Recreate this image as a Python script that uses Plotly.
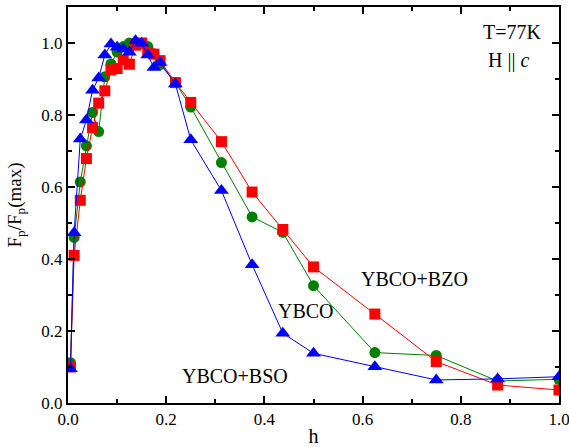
import plotly.graph_objects as go

h = [0.005, 0.0125, 0.025, 0.0375, 0.05, 0.0625, 0.075, 0.0875, 0.1, 0.1125,
     0.125, 0.1375, 0.15, 0.1625, 0.175, 0.1875, 0.21875, 0.25, 0.3125, 0.375,
     0.4375, 0.5, 0.625, 0.75, 0.875, 1.0]

ybco = [0.112, 0.46, 0.614, 0.714, 0.807, 0.754, 0.906, 0.942, 0.975, 0.99,
        1.0, 1.0, 0.998, 0.99, 0.97, 0.94, 0.89, 0.822, 0.668, 0.517,
        0.474, 0.326, 0.14, 0.132, 0.061, 0.066]

ybco_bzo = [0.10, 0.41, 0.563, 0.679, 0.765, 0.833, 0.867, 0.925, 0.929, 0.953,
            0.941, 0.994, 1.0, 0.974, 0.969, 0.951, 0.89, 0.835, 0.726, 0.586,
            0.482, 0.378, 0.247, 0.115, 0.05, 0.036]

ybco_bso = [0.095, 0.473, 0.733, 0.786, 0.869, 0.903, 0.967, 0.997, 0.988, 0.983,
            0.974, 1.006, 0.999, 0.967, 0.932, 0.946, 0.886, 0.731, 0.59, 0.384,
            0.194, 0.138, 0.101, 0.064, 0.067, 0.073]

x_ticks = [0.0, 0.2, 0.4, 0.6, 0.8, 1.0]
y_ticks = [0.0, 0.2, 0.4, 0.6, 0.8, 1.0]

FONT = "Liberation Serif, Times New Roman, serif"

fig = go.Figure()
fig.add_trace(go.Scatter(x=h, y=ybco, mode="lines+markers", name="YBCO",
                         line=dict(color="#008000", width=1),
                         marker=dict(symbol="circle", size=11, color="#008000")))
fig.add_trace(go.Scatter(x=h, y=ybco_bzo, mode="lines+markers", name="YBCO+BZO",
                         line=dict(color="#FF0000", width=1),
                         marker=dict(symbol="square", size=11, color="#FF0000")))
fig.add_trace(go.Scatter(x=h, y=ybco_bso, mode="lines+markers", name="YBCO+BSO",
                         line=dict(color="#0000FF", width=1),
                         marker=dict(symbol="triangle-up", size=13, color="#0000FF")))

axis_common = dict(showline=True, linecolor="black", linewidth=2, mirror="ticks",
                   ticks="inside", ticklen=7, tickwidth=1.5, tickcolor="black",
                   showgrid=False, zeroline=False, automargin=False,
                   ticklabeloverflow="allow",
                   tickfont=dict(family=FONT, size=17, color="black"))

fig.update_xaxes(range=[0, 1.0], tickvals=x_ticks,
                 ticktext=[f"{v:.1f}" for v in x_ticks],
                 minor=dict(ticks="inside", ticklen=4, tickwidth=1.5, dtick=0.1, tick0=0,
                            tickcolor="black", showgrid=False),
                 title=dict(text="h", font=dict(family=FONT, size=20, color="black")),
                 **axis_common)
fig.update_yaxes(range=[0, 1.1], tickvals=y_ticks,
                 ticktext=[f"{v:.1f}" for v in y_ticks],
                 minor=dict(ticks="inside", ticklen=4, tickwidth=1.5, dtick=0.1, tick0=0,
                            tickcolor="black", showgrid=False),
                 title=dict(text="F<sub>p</sub>/F<sub>p</sub>(max)",
                            font=dict(family=FONT, size=19, color="black")),
                 **axis_common)

ann_font = dict(family=FONT, size=20, color="black")
fig.add_annotation(x=0.705, y=0.345, xref="x", yref="y", text="YBCO+BZO",
                   showarrow=False, font=ann_font)
fig.add_annotation(x=0.485, y=0.255, xref="x", yref="y", text="YBCO",
                   showarrow=False, font=ann_font)
fig.add_annotation(x=0.34, y=0.075, xref="x", yref="y", text="YBCO+BSO",
                   showarrow=False, font=ann_font)
fig.add_annotation(x=0.968, y=1.0295, xref="x", yref="y", text="T=77K",
                   showarrow=False, font=ann_font, xanchor="right")
fig.add_annotation(x=0.852, y=0.9525, xref="x", yref="y", text="H || <i>c</i>",
                   showarrow=False, font=ann_font, xanchor="left")

fig.update_layout(width=569, height=447,
                  margin=dict(l=68, r=10, t=7, b=44),
                  paper_bgcolor="white", plot_bgcolor="white",
                  showlegend=False,
                  font=dict(family=FONT, color="black"))

fig.write_html("out.html", config={"displayModeBar": False},
               post_script="document.body.style.margin='0';document.body.style.padding='0';")
